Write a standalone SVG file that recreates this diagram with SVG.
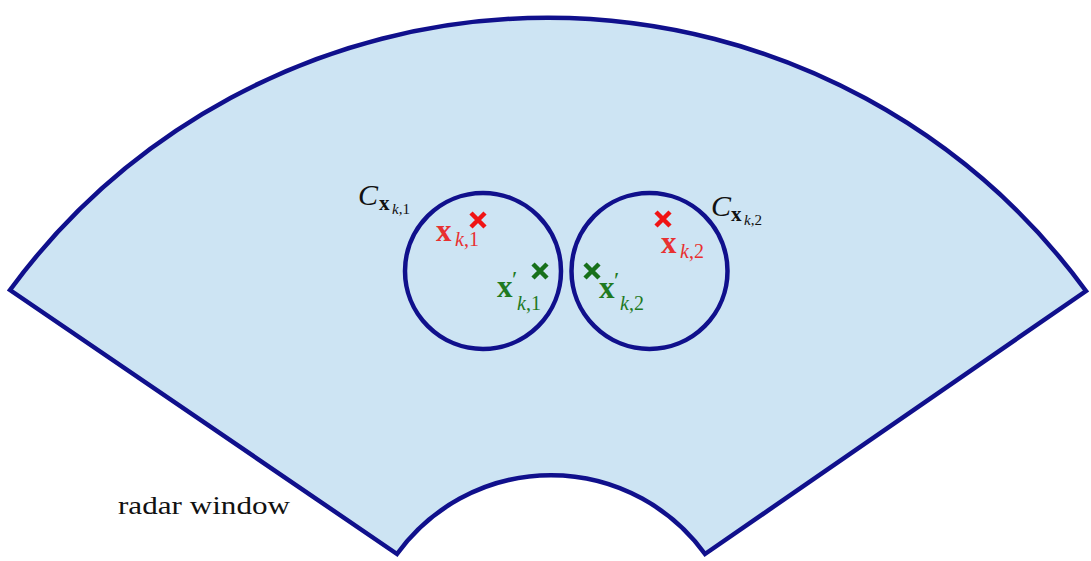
<svg xmlns="http://www.w3.org/2000/svg" width="1091" height="561" viewBox="0 0 1091 561">
<style>
.win{fill:#cde4f3;stroke:#10108c;stroke-width:4.5;stroke-linejoin:miter}
.circ{fill:none;stroke:#10108c;stroke-width:4.5}
.xr{stroke:#f01414;stroke-width:4.5;stroke-linecap:butt}
.xg{stroke:#17701a;stroke-width:4.5;stroke-linecap:butt}
.t{font-family:"Liberation Serif","DejaVu Serif",serif}
.bx{font-weight:bold}
.it{font-style:italic}
</style>
<rect width="1091" height="561" fill="#ffffff"/>
<g id="window">
<path class="win" d="M10,290 A667,667 0 0 1 1086,291 L705,554 A190,190 0 0 0 397,554 Z"/>
</g>
<g id="circle1"><circle class="circ" cx="483" cy="271" r="78"/></g>
<g id="circle2"><circle class="circ" cx="649.5" cy="271" r="78"/></g>
<g id="mark-xk1"><path class="xr" d="M471,213 L485,227 M485,213 L471,227"/></g>
<g id="mark-xk2"><path class="xr" d="M656,212 L670,226 M670,212 L656,226"/></g>
<g id="mark-xpk1"><path class="xg" d="M533,264 L547,278 M547,264 L533,278"/></g>
<g id="mark-xpk2"><path class="xg" d="M585,264 L599,278 M599,264 L585,278"/></g>
<g id="label-C1" class="t" fill="#111">
<text x="358" y="205" font-size="30" class="it">C</text>
<text x="379" y="210" font-size="21" class="bx">x</text>
<text x="392" y="214" font-size="15"><tspan class="it">k</tspan>,1</text>
</g>
<g id="label-C2" class="t" fill="#111">
<text x="711" y="216" font-size="30" class="it">C</text>
<text x="731" y="221" font-size="21" class="bx">x</text>
<text x="744" y="225" font-size="15"><tspan class="it">k</tspan>,2</text>
</g>
<g id="label-xk1" class="t" fill="#e83030">
<text x="436" y="241" font-size="31" class="bx">x</text>
<text x="455" y="246" font-size="20"><tspan class="it">k</tspan>,1</text>
</g>
<g id="label-xk2" class="t" fill="#e83030">
<text x="661" y="253" font-size="31" class="bx">x</text>
<text x="680" y="258" font-size="20"><tspan class="it">k</tspan>,2</text>
</g>
<g id="label-xpk1" class="t" fill="#1f7a1f">
<text x="497" y="297" font-size="31" class="bx">x</text>
<text x="512" y="287" font-size="24">′</text>
<text x="517" y="310" font-size="20"><tspan class="it">k</tspan>,1</text>
</g>
<g id="label-xpk2" class="t" fill="#1f7a1f">
<text x="599" y="298" font-size="31" class="bx">x</text>
<text x="614" y="288" font-size="24">′</text>
<text x="620" y="310" font-size="20"><tspan class="it">k</tspan>,2</text>
</g>
<g id="label-radar" class="t" fill="#111">
<text x="118" y="514" font-size="25" textLength="172" lengthAdjust="spacingAndGlyphs">radar window</text>
</g>
</svg>
